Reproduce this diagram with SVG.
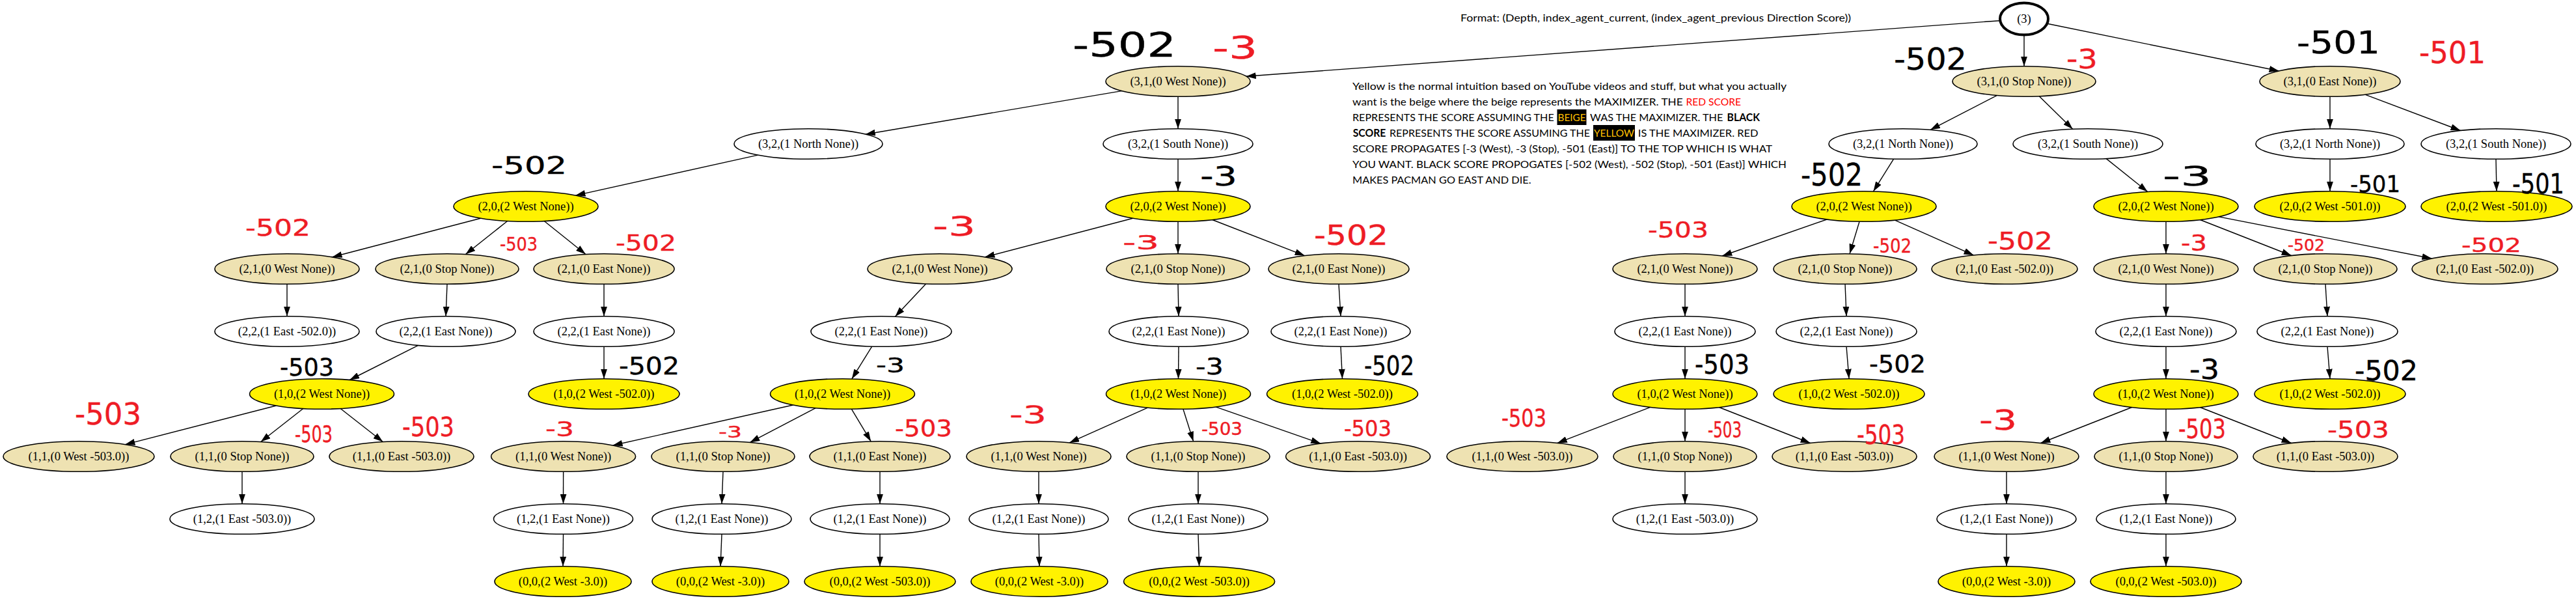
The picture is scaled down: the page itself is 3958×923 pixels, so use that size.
<svg xmlns="http://www.w3.org/2000/svg" width="3958" height="923" viewBox="0 0 3958 923">
<defs>
<marker id="arr" markerUnits="userSpaceOnUse" markerWidth="15" markerHeight="10" refX="15" refY="5" orient="auto"><path d="M0,0 L15,5 L0,10 Z" fill="#000"/></marker>
<style>
.n{stroke:#000;stroke-width:1.6}
.w{fill:#fff}
.b{fill:#EEE2B2}
.y{fill:#FFF200}
.t{font-family:"Liberation Serif","Times New Roman",serif;font-size:18.5px;text-anchor:middle;fill:#000}
.e line{stroke:#000;stroke-width:1.4;marker-end:url(#arr)}
.tx{font-family:Lato,"Liberation Sans",sans-serif;font-size:16.2px;fill:#000}
.hb{font-family:"DejaVu Sans",sans-serif;fill:#000;stroke:#000;stroke-width:0.4}
.hr{font-family:"DejaVu Sans",sans-serif;fill:#EE1C25;stroke:#EE1C25;stroke-width:0.4}
</style>
</defs>
<rect width="3958" height="923" fill="#fff"/>

<g id="connectors" class="e">
<line x1="3073.2" y1="31.7" x2="1914.7" y2="117.3"/>
<line x1="3110" y1="53.5" x2="3110" y2="101.7"/>
<line x1="3145.4" y1="36.2" x2="3501.6" y2="109"/>
<line x1="1723.6" y1="139.6" x2="1329.8" y2="206.2"/>
<line x1="1810" y1="148.3" x2="1810" y2="197.7"/>
<line x1="1164.6" y1="238.1" x2="884.4" y2="300.1"/>
<line x1="1810" y1="244.3" x2="1810" y2="293.7"/>
<line x1="738.5" y1="335.2" x2="510.5" y2="394.8"/>
<line x1="779.6" y1="339.5" x2="715.4" y2="390.5"/>
<line x1="836.2" y1="339.5" x2="899.9" y2="390.5"/>
<line x1="441" y1="436.3" x2="441" y2="485.7"/>
<line x1="687" y1="436.3" x2="685" y2="485.7"/>
<line x1="928" y1="436.3" x2="928" y2="485.7"/>
<line x1="642.6" y1="530.4" x2="537.2" y2="583.5"/>
<line x1="928" y1="532.3" x2="928" y2="581.7"/>
<line x1="424.3" y1="623" x2="192.4" y2="682.6"/>
<line x1="465.8" y1="627.5" x2="400.7" y2="678.5"/>
<line x1="523.2" y1="627.5" x2="588.3" y2="678.5"/>
<line x1="372" y1="724.3" x2="372" y2="773.7"/>
<line x1="1740.6" y1="335.2" x2="1513.4" y2="394.8"/>
<line x1="1810" y1="340.3" x2="1810" y2="389.7"/>
<line x1="1862.7" y1="337.5" x2="2004.6" y2="392.6"/>
<line x1="1422.6" y1="435.9" x2="1375.4" y2="486.2"/>
<line x1="1810" y1="436.3" x2="1811" y2="485.7"/>
<line x1="2057" y1="436.3" x2="2060" y2="485.7"/>
<line x1="1339.7" y1="532.1" x2="1308.8" y2="581.9"/>
<line x1="1811" y1="532.3" x2="1810.5" y2="581.7"/>
<line x1="2060" y1="532.3" x2="2062.5" y2="581.7"/>
<line x1="1218.6" y1="622" x2="941.5" y2="684"/>
<line x1="1253.2" y1="626.6" x2="1152.3" y2="679.4"/>
<line x1="1308.3" y1="628.1" x2="1338.2" y2="677.9"/>
<line x1="1763.4" y1="626.1" x2="1643.1" y2="679.9"/>
<line x1="1817.9" y1="628.2" x2="1833.6" y2="677.8"/>
<line x1="1867.9" y1="624.9" x2="2029.2" y2="681.1"/>
<line x1="865.6" y1="724.3" x2="865.5" y2="773.7"/>
<line x1="865.5" y1="820.3" x2="865" y2="869.7"/>
<line x1="1111" y1="724.3" x2="1109" y2="773.7"/>
<line x1="1109" y1="820.3" x2="1107" y2="869.7"/>
<line x1="1352" y1="724.3" x2="1352" y2="773.7"/>
<line x1="1352" y1="820.3" x2="1352" y2="869.7"/>
<line x1="1596" y1="724.3" x2="1596" y2="773.7"/>
<line x1="1596" y1="820.3" x2="1597" y2="869.7"/>
<line x1="1841" y1="724.3" x2="1841" y2="773.7"/>
<line x1="1841" y1="820.3" x2="1842.6" y2="869.7"/>
<line x1="3068.2" y1="146.6" x2="2966" y2="199.3"/>
<line x1="3133.2" y1="147.8" x2="3184.7" y2="198.2"/>
<line x1="2909.6" y1="244.1" x2="2878.4" y2="293.9"/>
<line x1="3236.2" y1="243.6" x2="3299.8" y2="294.5"/>
<line x1="2806.8" y1="337" x2="2646.2" y2="393"/>
<line x1="2857" y1="340.3" x2="2842" y2="389.7"/>
<line x1="2911.4" y1="338.1" x2="3032.5" y2="391.9"/>
<line x1="2589" y1="436.3" x2="2589" y2="485.7"/>
<line x1="2835" y1="436.3" x2="2837" y2="485.7"/>
<line x1="2589" y1="532.3" x2="2589" y2="581.7"/>
<line x1="2837" y1="532.3" x2="2841" y2="581.7"/>
<line x1="2535.8" y1="625.4" x2="2392.8" y2="680.4"/>
<line x1="2589" y1="628.3" x2="2589" y2="677.7"/>
<line x1="2641.4" y1="625.5" x2="2781.6" y2="680.5"/>
<line x1="2589" y1="724.3" x2="2589" y2="773.7"/>
<line x1="3328" y1="340.3" x2="3328" y2="389.7"/>
<line x1="3380.4" y1="337.5" x2="3520.7" y2="392.5"/>
<line x1="3409.1" y1="332.9" x2="3736.5" y2="397"/>
<line x1="3328" y1="436.3" x2="3328" y2="485.7"/>
<line x1="3573" y1="436.3" x2="3576" y2="485.7"/>
<line x1="3328" y1="532.3" x2="3328" y2="581.7"/>
<line x1="3576" y1="532.3" x2="3580" y2="581.7"/>
<line x1="3275.6" y1="625.5" x2="3135.4" y2="680.5"/>
<line x1="3328" y1="628.3" x2="3328" y2="677.7"/>
<line x1="3380.4" y1="625.5" x2="3520.6" y2="680.5"/>
<line x1="3083" y1="724.3" x2="3083" y2="773.7"/>
<line x1="3083" y1="820.3" x2="3083" y2="869.7"/>
<line x1="3328" y1="724.3" x2="3328" y2="773.7"/>
<line x1="3328" y1="820.3" x2="3328" y2="869.7"/>
<line x1="3580" y1="148.3" x2="3580" y2="197.7"/>
<line x1="3633.7" y1="145.2" x2="3780.5" y2="200.5"/>
<line x1="3580" y1="244.3" x2="3580" y2="293.7"/>
<line x1="3835" y1="244.3" x2="3836" y2="293.7"/>
</g>

<g id="root"><ellipse cx="3110" cy="29" rx="37" ry="24.5" fill="#fff" stroke="#000" stroke-width="4"/><text class="t" x="3110" y="35">(3)</text></g>

<g id="A1"><ellipse class="n b" cx="1810" cy="125" rx="111" ry="23.3"/><text class="t" x="1810" y="131">(3,1,(0 West None))</text></g>
<g id="A2"><ellipse class="n b" cx="3110" cy="125" rx="110" ry="23.3"/><text class="t" x="3110" y="131">(3,1,(0 Stop None))</text></g>
<g id="A3"><ellipse class="n b" cx="3580" cy="125" rx="108" ry="23.3"/><text class="t" x="3580" y="131">(3,1,(0 East None))</text></g>

<g id="B1"><ellipse class="n w" cx="1242" cy="221" rx="114" ry="23.3"/><text class="t" x="1242" y="227">(3,2,(1 North None))</text></g>
<g id="B2"><ellipse class="n w" cx="1810" cy="221" rx="115" ry="23.3"/><text class="t" x="1810" y="227">(3,2,(1 South None))</text></g>
<g id="B3"><ellipse class="n w" cx="2924" cy="221" rx="114" ry="23.3"/><text class="t" x="2924" y="227">(3,2,(1 North None))</text></g>
<g id="B4"><ellipse class="n w" cx="3208" cy="221" rx="115" ry="23.3"/><text class="t" x="3208" y="227">(3,2,(1 South None))</text></g>
<g id="B5"><ellipse class="n w" cx="3580" cy="221" rx="114" ry="23.3"/><text class="t" x="3580" y="227">(3,2,(1 North None))</text></g>
<g id="B6"><ellipse class="n w" cx="3835" cy="221" rx="115" ry="23.3"/><text class="t" x="3835" y="227">(3,2,(1 South None))</text></g>

<g id="C1"><ellipse class="n y" cx="808" cy="317" rx="111" ry="23.3"/><text class="t" x="808" y="323">(2,0,(2 West None))</text></g>
<g id="C2"><ellipse class="n y" cx="1810" cy="317" rx="111" ry="23.3"/><text class="t" x="1810" y="323">(2,0,(2 West None))</text></g>
<g id="C3"><ellipse class="n y" cx="2864" cy="317" rx="111" ry="23.3"/><text class="t" x="2864" y="323">(2,0,(2 West None))</text></g>
<g id="C4"><ellipse class="n y" cx="3328" cy="317" rx="111" ry="23.3"/><text class="t" x="3328" y="323">(2,0,(2 West None))</text></g>
<g id="C5"><ellipse class="n y" cx="3580" cy="317" rx="116" ry="23.3"/><text class="t" x="3580" y="323">(2,0,(2 West -501.0))</text></g>
<g id="C6"><ellipse class="n y" cx="3836" cy="317" rx="116" ry="23.3"/><text class="t" x="3836" y="323">(2,0,(2 West -501.0))</text></g>

<g id="D1"><ellipse class="n b" cx="441" cy="413" rx="111" ry="23.3"/><text class="t" x="441" y="419">(2,1,(0 West None))</text></g>
<g id="D2"><ellipse class="n b" cx="687" cy="413" rx="110" ry="23.3"/><text class="t" x="687" y="419">(2,1,(0 Stop None))</text></g>
<g id="D3"><ellipse class="n b" cx="928" cy="413" rx="108" ry="23.3"/><text class="t" x="928" y="419">(2,1,(0 East None))</text></g>
<g id="D4"><ellipse class="n b" cx="1444" cy="413" rx="111" ry="23.3"/><text class="t" x="1444" y="419">(2,1,(0 West None))</text></g>
<g id="D5"><ellipse class="n b" cx="1810" cy="413" rx="110" ry="23.3"/><text class="t" x="1810" y="419">(2,1,(0 Stop None))</text></g>
<g id="D6"><ellipse class="n b" cx="2057" cy="413" rx="108" ry="23.3"/><text class="t" x="2057" y="419">(2,1,(0 East None))</text></g>
<g id="D7"><ellipse class="n b" cx="2589" cy="413" rx="111" ry="23.3"/><text class="t" x="2589" y="419">(2,1,(0 West None))</text></g>
<g id="D8"><ellipse class="n b" cx="2835" cy="413" rx="110" ry="23.3"/><text class="t" x="2835" y="419">(2,1,(0 Stop None))</text></g>
<g id="D9"><ellipse class="n b" cx="3080" cy="413" rx="112" ry="23.3"/><text class="t" x="3080" y="419">(2,1,(0 East -502.0))</text></g>
<g id="D10"><ellipse class="n b" cx="3328" cy="413" rx="111" ry="23.3"/><text class="t" x="3328" y="419">(2,1,(0 West None))</text></g>
<g id="D11"><ellipse class="n b" cx="3573" cy="413" rx="110" ry="23.3"/><text class="t" x="3573" y="419">(2,1,(0 Stop None))</text></g>
<g id="D12"><ellipse class="n b" cx="3818" cy="413" rx="112" ry="23.3"/><text class="t" x="3818" y="419">(2,1,(0 East -502.0))</text></g>

<g id="E1"><ellipse class="n w" cx="441" cy="509" rx="111" ry="23.3"/><text class="t" x="441" y="515">(2,2,(1 East -502.0))</text></g>
<g id="E2"><ellipse class="n w" cx="685" cy="509" rx="107" ry="23.3"/><text class="t" x="685" y="515">(2,2,(1 East None))</text></g>
<g id="E3"><ellipse class="n w" cx="928" cy="509" rx="108" ry="23.3"/><text class="t" x="928" y="515">(2,2,(1 East None))</text></g>
<g id="E4"><ellipse class="n w" cx="1354" cy="509" rx="108" ry="23.3"/><text class="t" x="1354" y="515">(2,2,(1 East None))</text></g>
<g id="E5"><ellipse class="n w" cx="1811" cy="509" rx="107" ry="23.3"/><text class="t" x="1811" y="515">(2,2,(1 East None))</text></g>
<g id="E6"><ellipse class="n w" cx="2060" cy="509" rx="107" ry="23.3"/><text class="t" x="2060" y="515">(2,2,(1 East None))</text></g>
<g id="E7"><ellipse class="n w" cx="2589" cy="509" rx="108" ry="23.3"/><text class="t" x="2589" y="515">(2,2,(1 East None))</text></g>
<g id="E8"><ellipse class="n w" cx="2837" cy="509" rx="108" ry="23.3"/><text class="t" x="2837" y="515">(2,2,(1 East None))</text></g>
<g id="E9"><ellipse class="n w" cx="3328" cy="509" rx="108" ry="23.3"/><text class="t" x="3328" y="515">(2,2,(1 East None))</text></g>
<g id="E10"><ellipse class="n w" cx="3576" cy="509" rx="108" ry="23.3"/><text class="t" x="3576" y="515">(2,2,(1 East None))</text></g>

<g id="F1"><ellipse class="n y" cx="494.5" cy="605" rx="111" ry="23.3"/><text class="t" x="494.5" y="611">(1,0,(2 West None))</text></g>
<g id="F2"><ellipse class="n y" cx="928" cy="605" rx="116" ry="23.3"/><text class="t" x="928" y="611">(1,0,(2 West -502.0))</text></g>
<g id="F3"><ellipse class="n y" cx="1294.5" cy="605" rx="111" ry="23.3"/><text class="t" x="1294.5" y="611">(1,0,(2 West None))</text></g>
<g id="F4"><ellipse class="n y" cx="1810.5" cy="605" rx="111" ry="23.3"/><text class="t" x="1810.5" y="611">(1,0,(2 West None))</text></g>
<g id="F5"><ellipse class="n y" cx="2062.5" cy="605" rx="116" ry="23.3"/><text class="t" x="2062.5" y="611">(1,0,(2 West -502.0))</text></g>
<g id="F6"><ellipse class="n y" cx="2589" cy="605" rx="111" ry="23.3"/><text class="t" x="2589" y="611">(1,0,(2 West None))</text></g>
<g id="F7"><ellipse class="n y" cx="2841" cy="605" rx="116" ry="23.3"/><text class="t" x="2841" y="611">(1,0,(2 West -502.0))</text></g>
<g id="F8"><ellipse class="n y" cx="3328" cy="605" rx="111" ry="23.3"/><text class="t" x="3328" y="611">(1,0,(2 West None))</text></g>
<g id="F9"><ellipse class="n y" cx="3580" cy="605" rx="116" ry="23.3"/><text class="t" x="3580" y="611">(1,0,(2 West -502.0))</text></g>

<g id="G1"><ellipse class="n b" cx="121" cy="701" rx="116" ry="23.3"/><text class="t" x="121" y="707">(1,1,(0 West -503.0))</text></g>
<g id="G2"><ellipse class="n b" cx="372" cy="701" rx="110" ry="23.3"/><text class="t" x="372" y="707">(1,1,(0 Stop None))</text></g>
<g id="G3"><ellipse class="n b" cx="617" cy="701" rx="111" ry="23.3"/><text class="t" x="617" y="707">(1,1,(0 East -503.0))</text></g>
<g id="G4"><ellipse class="n b" cx="865.6" cy="701" rx="111" ry="23.3"/><text class="t" x="865.6" y="707">(1,1,(0 West None))</text></g>
<g id="G5"><ellipse class="n b" cx="1111" cy="701" rx="110" ry="23.3"/><text class="t" x="1111" y="707">(1,1,(0 Stop None))</text></g>
<g id="G6"><ellipse class="n b" cx="1352" cy="701" rx="108" ry="23.3"/><text class="t" x="1352" y="707">(1,1,(0 East None))</text></g>
<g id="G7"><ellipse class="n b" cx="1596" cy="701" rx="111" ry="23.3"/><text class="t" x="1596" y="707">(1,1,(0 West None))</text></g>
<g id="G8"><ellipse class="n b" cx="1841" cy="701" rx="110" ry="23.3"/><text class="t" x="1841" y="707">(1,1,(0 Stop None))</text></g>
<g id="G9"><ellipse class="n b" cx="2086.6" cy="701" rx="111" ry="23.3"/><text class="t" x="2086.6" y="707">(1,1,(0 East -503.0))</text></g>
<g id="G10"><ellipse class="n b" cx="2339" cy="701" rx="116" ry="23.3"/><text class="t" x="2339" y="707">(1,1,(0 West -503.0))</text></g>
<g id="G11"><ellipse class="n b" cx="2589" cy="701" rx="110" ry="23.3"/><text class="t" x="2589" y="707">(1,1,(0 Stop None))</text></g>
<g id="G12"><ellipse class="n b" cx="2834" cy="701" rx="111" ry="23.3"/><text class="t" x="2834" y="707">(1,1,(0 East -503.0))</text></g>
<g id="G13"><ellipse class="n b" cx="3083" cy="701" rx="111" ry="23.3"/><text class="t" x="3083" y="707">(1,1,(0 West None))</text></g>
<g id="G14"><ellipse class="n b" cx="3328" cy="701" rx="110" ry="23.3"/><text class="t" x="3328" y="707">(1,1,(0 Stop None))</text></g>
<g id="G15"><ellipse class="n b" cx="3573" cy="701" rx="111" ry="23.3"/><text class="t" x="3573" y="707">(1,1,(0 East -503.0))</text></g>

<g id="H1"><ellipse class="n w" cx="372" cy="797" rx="111" ry="23.3"/><text class="t" x="372" y="803">(1,2,(1 East -503.0))</text></g>
<g id="H2"><ellipse class="n w" cx="865.5" cy="797" rx="107" ry="23.3"/><text class="t" x="865.5" y="803">(1,2,(1 East None))</text></g>
<g id="H3"><ellipse class="n w" cx="1109" cy="797" rx="107" ry="23.3"/><text class="t" x="1109" y="803">(1,2,(1 East None))</text></g>
<g id="H4"><ellipse class="n w" cx="1352" cy="797" rx="107" ry="23.3"/><text class="t" x="1352" y="803">(1,2,(1 East None))</text></g>
<g id="H5"><ellipse class="n w" cx="1596" cy="797" rx="107" ry="23.3"/><text class="t" x="1596" y="803">(1,2,(1 East None))</text></g>
<g id="H6"><ellipse class="n w" cx="1841" cy="797" rx="107" ry="23.3"/><text class="t" x="1841" y="803">(1,2,(1 East None))</text></g>
<g id="H7"><ellipse class="n w" cx="2589" cy="797" rx="111" ry="23.3"/><text class="t" x="2589" y="803">(1,2,(1 East -503.0))</text></g>
<g id="H8"><ellipse class="n w" cx="3083" cy="797" rx="107" ry="23.3"/><text class="t" x="3083" y="803">(1,2,(1 East None))</text></g>
<g id="H9"><ellipse class="n w" cx="3328" cy="797" rx="107" ry="23.3"/><text class="t" x="3328" y="803">(1,2,(1 East None))</text></g>

<g id="I1"><ellipse class="n y" cx="865" cy="893" rx="105" ry="23.3"/><text class="t" x="865" y="899">(0,0,(2 West -3.0))</text></g>
<g id="I2"><ellipse class="n y" cx="1107" cy="893" rx="105" ry="23.3"/><text class="t" x="1107" y="899">(0,0,(2 West -3.0))</text></g>
<g id="I3"><ellipse class="n y" cx="1352" cy="893" rx="116" ry="23.3"/><text class="t" x="1352" y="899">(0,0,(2 West -503.0))</text></g>
<g id="I4"><ellipse class="n y" cx="1597" cy="893" rx="105" ry="23.3"/><text class="t" x="1597" y="899">(0,0,(2 West -3.0))</text></g>
<g id="I5"><ellipse class="n y" cx="1842.6" cy="893" rx="116" ry="23.3"/><text class="t" x="1842.6" y="899">(0,0,(2 West -503.0))</text></g>
<g id="I6"><ellipse class="n y" cx="3083" cy="893" rx="105" ry="23.3"/><text class="t" x="3083" y="899">(0,0,(2 West -3.0))</text></g>
<g id="I7"><ellipse class="n y" cx="3328" cy="893" rx="116" ry="23.3"/><text class="t" x="3328" y="899">(0,0,(2 West -503.0))</text></g>

<g id="legend">
<text class="tx" x="2244" y="33.3" textLength="600" lengthAdjust="spacingAndGlyphs">Format: (Depth, index_agent_current, (index_agent_previous Direction Score))</text>
<text class="tx" x="2078" y="138.3" textLength="667" lengthAdjust="spacingAndGlyphs">Yellow is the normal intuition based on YouTube videos and stuff, but what you actually</text>
<text class="tx" x="2078" y="162.3" textLength="507.7" lengthAdjust="spacingAndGlyphs">want is the beige where the beige represents the MAXIMIZER. THE</text>
<text class="tx" x="2590.5" y="162.3" textLength="84.5" lengthAdjust="spacingAndGlyphs" style="fill:#FF0000">RED SCORE</text>
<text class="tx" x="2078" y="186.3" textLength="309.7" lengthAdjust="spacingAndGlyphs">REPRESENTS THE SCORE ASSUMING THE</text>
<rect x="2392.5" y="168" width="45" height="24" fill="#000"/>
<text class="tx" x="2393.5" y="186.3" textLength="43" lengthAdjust="spacingAndGlyphs" style="fill:#FFC000">BEIGE</text>
<text class="tx" x="2443" y="186.3" textLength="204.4" lengthAdjust="spacingAndGlyphs">WAS THE MAXIMIZER. THE</text>
<text class="tx" x="2653.6" y="186.3" textLength="50.4" lengthAdjust="spacingAndGlyphs" font-weight="bold">BLACK</text>
<text class="tx" x="2078.7" y="210.3" textLength="50.7" lengthAdjust="spacingAndGlyphs" font-weight="bold">SCORE</text>
<text class="tx" x="2135" y="210.3" textLength="308" lengthAdjust="spacingAndGlyphs">REPRESENTS THE SCORE ASSUMING THE</text>
<rect x="2448" y="192" width="64" height="24" fill="#000"/>
<text class="tx" x="2449" y="210.3" textLength="62" lengthAdjust="spacingAndGlyphs" style="fill:#FFC000">YELLOW</text>
<text class="tx" x="2516.8" y="210.3" textLength="184.7" lengthAdjust="spacingAndGlyphs">IS THE MAXIMIZER. RED</text>
<text class="tx" x="2078" y="234.3" textLength="645" lengthAdjust="spacingAndGlyphs">SCORE PROPAGATES [-3 (West), -3 (Stop), -501 (East)] TO THE TOP WHICH IS WHAT</text>
<text class="tx" x="2078" y="258.3" textLength="667" lengthAdjust="spacingAndGlyphs">YOU WANT. BLACK SCORE PROPOGATES [-502 (West), -502 (Stop), -501 (East)] WHICH</text>
<text class="tx" x="2078" y="282.3" textLength="274.6" lengthAdjust="spacingAndGlyphs">MAKES PACMAN GO EAST AND DIE.</text>
</g>

<g id="black-scores" class="hb">
<text x="1648" y="87" font-size="52" textLength="159" lengthAdjust="spacingAndGlyphs">-502</text>
<text x="755" y="267" font-size="38" textLength="116" lengthAdjust="spacingAndGlyphs">-502</text>
<text x="1844" y="285" font-size="40" textLength="57" lengthAdjust="spacingAndGlyphs">-3</text>
<text x="2910" y="107" font-size="46" textLength="112" lengthAdjust="spacingAndGlyphs">-502</text>
<text x="2767" y="285" font-size="48" textLength="95" lengthAdjust="spacingAndGlyphs">-502</text>
<text x="3529" y="82" font-size="48" textLength="128" lengthAdjust="spacingAndGlyphs">-501</text>
<text x="3323" y="285" font-size="40" textLength="75" lengthAdjust="spacingAndGlyphs">-3</text>
<text x="3611" y="295" font-size="36" textLength="77" lengthAdjust="spacingAndGlyphs">-501</text>
<text x="3860" y="297" font-size="43" textLength="80" lengthAdjust="spacingAndGlyphs">-501</text>
<text x="430" y="577" font-size="37" textLength="83" lengthAdjust="spacingAndGlyphs">-503</text>
<text x="951" y="575" font-size="37" textLength="93" lengthAdjust="spacingAndGlyphs">-502</text>
<text x="1346" y="572" font-size="32" textLength="44" lengthAdjust="spacingAndGlyphs">-3</text>
<text x="1837" y="575" font-size="36" textLength="43" lengthAdjust="spacingAndGlyphs">-3</text>
<text x="2096" y="576" font-size="40" textLength="77" lengthAdjust="spacingAndGlyphs">-502</text>
<text x="2604" y="574" font-size="40" textLength="84" lengthAdjust="spacingAndGlyphs">-503</text>
<text x="2872" y="572" font-size="38" textLength="87" lengthAdjust="spacingAndGlyphs">-502</text>
<text x="3364" y="582" font-size="42" textLength="46" lengthAdjust="spacingAndGlyphs">-3</text>
<text x="3618" y="584" font-size="42" textLength="97" lengthAdjust="spacingAndGlyphs">-502</text>
</g>

<g id="red-scores" class="hr">
<text x="1863" y="90" font-size="48" textLength="69" lengthAdjust="spacingAndGlyphs">-3</text>
<text x="3175" y="105" font-size="40" textLength="48" lengthAdjust="spacingAndGlyphs">-3</text>
<text x="3717" y="97" font-size="46" textLength="102" lengthAdjust="spacingAndGlyphs">-501</text>
<text x="377" y="362" font-size="36" textLength="100" lengthAdjust="spacingAndGlyphs">-502</text>
<text x="768" y="385" font-size="29" textLength="58" lengthAdjust="spacingAndGlyphs">-503</text>
<text x="946" y="385" font-size="33" textLength="93" lengthAdjust="spacingAndGlyphs">-502</text>
<text x="1433" y="362" font-size="40" textLength="66" lengthAdjust="spacingAndGlyphs">-3</text>
<text x="1725" y="383" font-size="31" textLength="56" lengthAdjust="spacingAndGlyphs">-3</text>
<text x="2019" y="376" font-size="43" textLength="114" lengthAdjust="spacingAndGlyphs">-502</text>
<text x="2532" y="365" font-size="33" textLength="93" lengthAdjust="spacingAndGlyphs">-503</text>
<text x="2878" y="388" font-size="30" textLength="59" lengthAdjust="spacingAndGlyphs">-502</text>
<text x="3054" y="383" font-size="37" textLength="100" lengthAdjust="spacingAndGlyphs">-502</text>
<text x="3351" y="385" font-size="33" textLength="40" lengthAdjust="spacingAndGlyphs">-3</text>
<text x="3515" y="385" font-size="24" textLength="57" lengthAdjust="spacingAndGlyphs">-502</text>
<text x="3782" y="387" font-size="30" textLength="92" lengthAdjust="spacingAndGlyphs">-502</text>
<text x="115" y="652" font-size="47" textLength="102" lengthAdjust="spacingAndGlyphs">-503</text>
<text x="453" y="679" font-size="36" textLength="58" lengthAdjust="spacingAndGlyphs">-503</text>
<text x="618" y="670" font-size="40" textLength="80" lengthAdjust="spacingAndGlyphs">-503</text>
<text x="838" y="670" font-size="32" textLength="44" lengthAdjust="spacingAndGlyphs">-3</text>
<text x="1104" y="672" font-size="24" textLength="36" lengthAdjust="spacingAndGlyphs">-3</text>
<text x="1375" y="670" font-size="36" textLength="88" lengthAdjust="spacingAndGlyphs">-503</text>
<text x="1551" y="650" font-size="37" textLength="57" lengthAdjust="spacingAndGlyphs">-3</text>
<text x="1846" y="668" font-size="26" textLength="63" lengthAdjust="spacingAndGlyphs">-503</text>
<text x="2065" y="670" font-size="33" textLength="73" lengthAdjust="spacingAndGlyphs">-503</text>
<text x="2307" y="655" font-size="37" textLength="69" lengthAdjust="spacingAndGlyphs">-503</text>
<text x="2624" y="672" font-size="33" textLength="52" lengthAdjust="spacingAndGlyphs">-503</text>
<text x="2853" y="682" font-size="40" textLength="74" lengthAdjust="spacingAndGlyphs">-503</text>
<text x="3041" y="660" font-size="42" textLength="58" lengthAdjust="spacingAndGlyphs">-3</text>
<text x="3347" y="673" font-size="40" textLength="73" lengthAdjust="spacingAndGlyphs">-503</text>
<text x="3576" y="672" font-size="36" textLength="95" lengthAdjust="spacingAndGlyphs">-503</text>
</g>
</svg>
